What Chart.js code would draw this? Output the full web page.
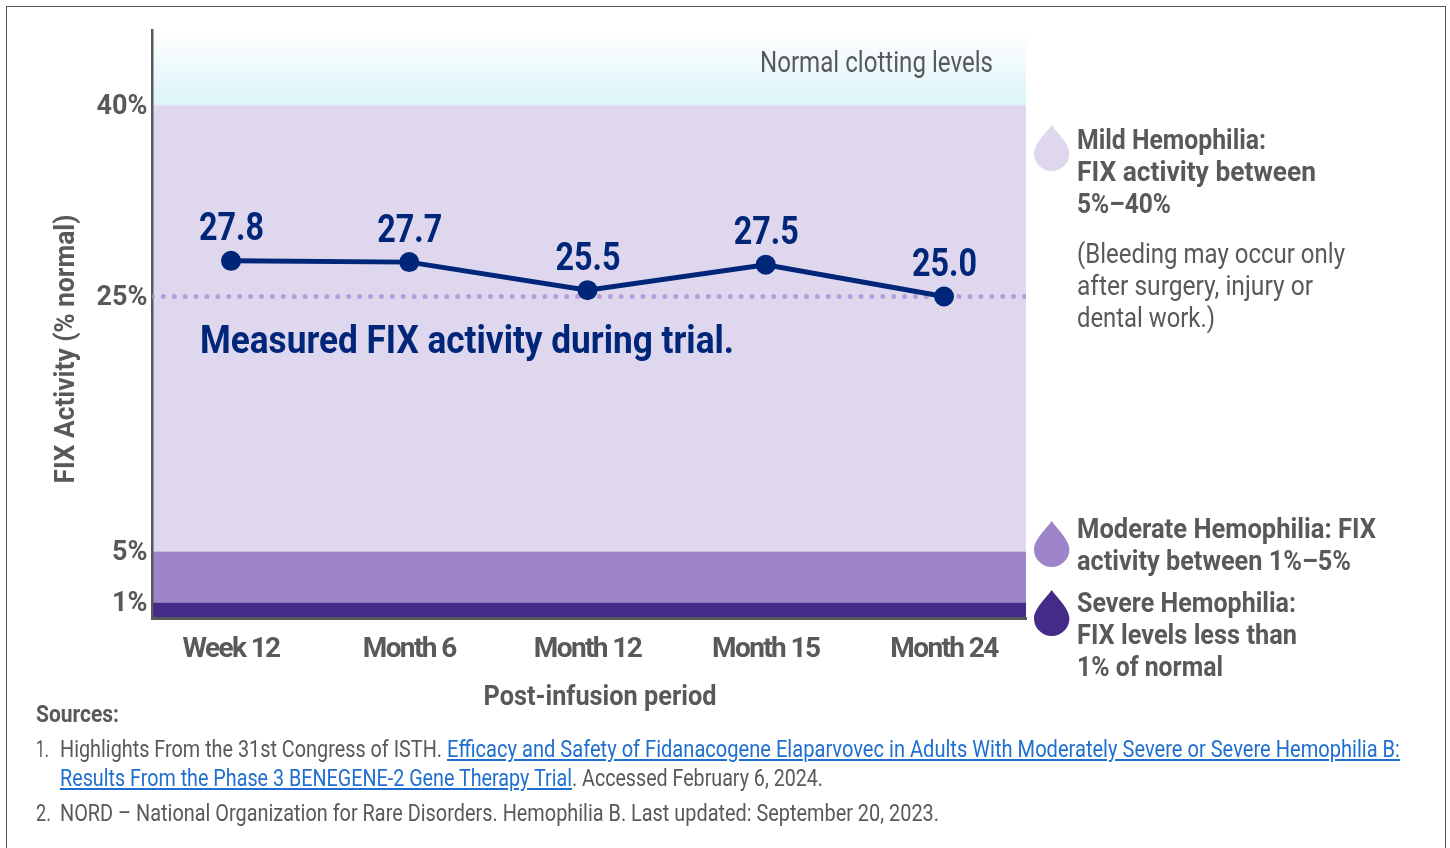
<!DOCTYPE html>
<html><head><meta charset="utf-8">
<script src="https://cdn.jsdelivr.net/npm/chart.js@4/dist/chart.umd.min.js"></script>
<style>
html,body{margin:0;padding:0;background:#fff;width:1450px;height:848px;overflow:hidden}
#frame{position:absolute;left:6px;top:6px;width:1440px;height:842px;border:solid #58595b;border-width:1.5px 1.5px 0 1.5px;box-sizing:border-box}
canvas{position:absolute;left:0;top:0}
.t{position:absolute;white-space:nowrap;color:#58595b;font-family:"Roboto",sans-serif;transform-origin:0 50%;line-height:36px;height:36px}
.b{font-weight:700}
.n{color:#00267a}
.l{color:#1f6fd0;text-decoration:underline}
svg{position:absolute}
</style></head><body>
<div id="frame"></div>
<canvas id="c" width="1450" height="848"></canvas>
<div id="txt"></div>
<script>
const categories=["Week 12","Month 6","Month 12","Month 15","Month 24"];
const fixActivity=[27.8,27.7,25.5,27.5,25.0];
const fixLabels=["27.8","27.7","25.5","27.5","25.0"];
const yTickValues=[1,5,25,40];
const referenceLevel=25;
const bandEdges=[40,5,1];
const xAxisTitle="Post-infusion period";
const yAxisTitle="FIX Activity (% normal)";
const FONT='"Roboto",sans-serif';
const NAVY='#00267a',GREY='#58595b';

function fit(ctx,text,cx,cy,w,font,color,rot){
  ctx.save();ctx.font=font;ctx.fillStyle=color;ctx.textAlign='center';ctx.textBaseline='middle';
  ctx.translate(cx,cy);if(rot)ctx.rotate(rot);
  ctx.scale(w/ctx.measureText(text).width,1);ctx.fillText(text,0,0);ctx.restore();
}
const bands={id:'bands',beforeDraw(ch){
  const {ctx,chartArea:a,scales:{y}}=ch;
  const y40=y.getPixelForValue(bandEdges[0]),y5=y.getPixelForValue(bandEdges[1]),y1=y.getPixelForValue(bandEdges[2]);
  const bottom=y.getPixelForValue(y.min),top=y.getPixelForValue(y.max);
  ctx.save();
  const g=ctx.createLinearGradient(0,top,0,y40);g.addColorStop(0,'#ffffff');g.addColorStop(1,'#dcf4f9');
  ctx.fillStyle=g;ctx.fillRect(a.left,top,a.width,y40-top);
  ctx.fillStyle='#dfd7ee';ctx.fillRect(a.left,y40,a.width,y5-y40);
  ctx.fillStyle='#9e85c9';ctx.fillRect(a.left,y5,a.width,y1-y5);
  ctx.fillStyle='#432b87';ctx.fillRect(a.left,y1,a.width,bottom-y1);
  ctx.restore();
}};
const valueLabels={id:'valueLabels',afterDatasetsDraw(ch){
  const meta=ch.getDatasetMeta(1);
  meta.data.forEach((p,i)=>fit(ch.ctx,fixLabels[i],p.x+0.5,p.y-30,65,'700 38px '+FONT,NAVY));
}};
const axisTitles={id:'axisTitles',afterDraw(ch){
  fit(ch.ctx,xAxisTitle,600,698,233,'700 27px '+FONT,GREY);
  fit(ch.ctx,yAxisTitle,67,349,269,'700 27px '+FONT,GREY,-Math.PI/2);
}};
function tighten(s,px){
  if(s._tight)return; s._tight=true;
  const draw=s.drawLabels;
  s.drawLabels=function(a){const c=s.ctx;c.save();c.letterSpacing=px;draw.call(s,a);c.restore();};
}
new Chart(document.getElementById('c'),{
  type:'line',
  data:{datasets:[
    {order:2,data:[{x:-0.4404,y:referenceLevel},{x:4.46,y:referenceLevel}],borderColor:'#b49fdc',borderWidth:5,borderDash:[0,10.9],borderCapStyle:'round',pointRadius:0,parsing:false},
    {order:1,data:fixActivity.map((v,i)=>({x:i,y:v})),borderColor:NAVY,backgroundColor:NAVY,borderWidth:5,pointRadius:10,pointBackgroundColor:NAVY,pointBorderWidth:0,tension:0,parsing:false}
  ]},
  options:{responsive:false,animation:false,devicePixelRatio:1,
    layout:{padding:{top:30,right:424,left:0,bottom:0}},
    plugins:{legend:{display:false},tooltip:{enabled:false}},
    scales:{
      x:{type:'linear',min:-0.4404,max:4.46,
        afterFit(s){s.height=230;tighten(s,'-1.6px')},
        afterBuildTicks(s){s.ticks=categories.map((c,i)=>({value:i}))},
        grid:{display:false,drawTicks:false},border:{display:true,color:GREY,width:3},
        ticks:{autoSkip:false,maxRotation:0,padding:15,color:GREY,font:{family:FONT,size:28,weight:'700'},callback:v=>categories[v]}},
      y:{type:'linear',min:-0.212,max:45.906,
        afterFit(s){s.width=152.5},
        afterBuildTicks(s){s.ticks=yTickValues.map(v=>({value:v}))},
        grid:{display:false,drawTicks:false},border:{display:true,color:GREY,width:2.5},
        ticks:{autoSkip:false,padding:5,labelOffset:1.5,color:GREY,font:{family:FONT,size:27,weight:'700'},callback:v=>v+'%'}}
    }
  },
  plugins:[bands,valueLabels,axisTitles]
});
const texts=[
 [760,62,233,29,0,'Normal clotting levels'],
 [200,340,534,39,2,'Measured FIX activity during trial.'],
 [1077,140,189,27,1,'Mild Hemophilia:'],
 [1077,172,239,27,1,'FIX activity between'],
 [1077,204,94,27,1,'5%–40%'],
 [1077,254,268,27,0,'(Bleeding may occur only'],
 [1077,286,236,27,0,'after surgery, injury or'],
 [1077,318,138,27,0,'dental work.)'],
 [1077,529,299,27,1,'Moderate Hemophilia: FIX'],
 [1077,561,274,27,1,'activity between 1%–5%'],
 [1077,603,219,27,1,'Severe Hemophilia:'],
 [1077,635,220,27,1,'FIX levels less than'],
 [1077,667,146,27,1,'1% of normal'],
 [36,715,83,23,1,'Sources:'],
 [36,750,13,23,0,'1.'],
 [60,750,382,23,0,'Highlights From the 31st Congress of ISTH.'],
 [447,750,953,23,3,'Efficacy and Safety of Fidanacogene Elaparvovec in Adults With Moderately Severe or Severe Hemophilia B:'],
 [60,779,512,23,3,'Results From the Phase 3 BENEGENE-2 Gene Therapy Trial'],
 [572,779,251,23,0,'. Accessed February 6, 2024.'],
 [36,814,15,23,0,'2.'],
 [60,814,879,23,0,'NORD – National Organization for Rare Disorders. Hemophilia B. Last updated: September 20, 2023.']
];
const host=document.getElementById('txt');
texts.forEach(([x,cy,w,size,kind,text])=>{
  const d=document.createElement('div');
  d.className='t'+(kind==1||kind==2?' b':'')+(kind==2?' n':'')+(kind==3?' l':'');
  d.style.left=x+'px';d.style.top=(cy-18)+'px';d.style.fontSize=size+'px';d.textContent=text;
  host.appendChild(d);
  d.style.transform='scaleX('+(w/d.getBoundingClientRect().width)+')';
});
[[125,'#dfd7ee'],[521,'#9e85c9'],[590,'#432b87']].forEach(([top,col])=>{
  const s=document.createElementNS('http://www.w3.org/2000/svg','svg');
  s.setAttribute('width','36');s.setAttribute('height','46');s.setAttribute('viewBox','0 0 36 46');
  s.style.left='1034px';s.style.top=top+'px';
  s.innerHTML='<path fill="'+col+'" d="M17.7 0C22 6.5 35.4 18.5 35.4 28.5A17.7 17.5 0 0 1 0 28.5C0 18.5 13.4 6.5 17.7 0Z"/>';
  host.appendChild(s);
});
</script>
</body></html>
